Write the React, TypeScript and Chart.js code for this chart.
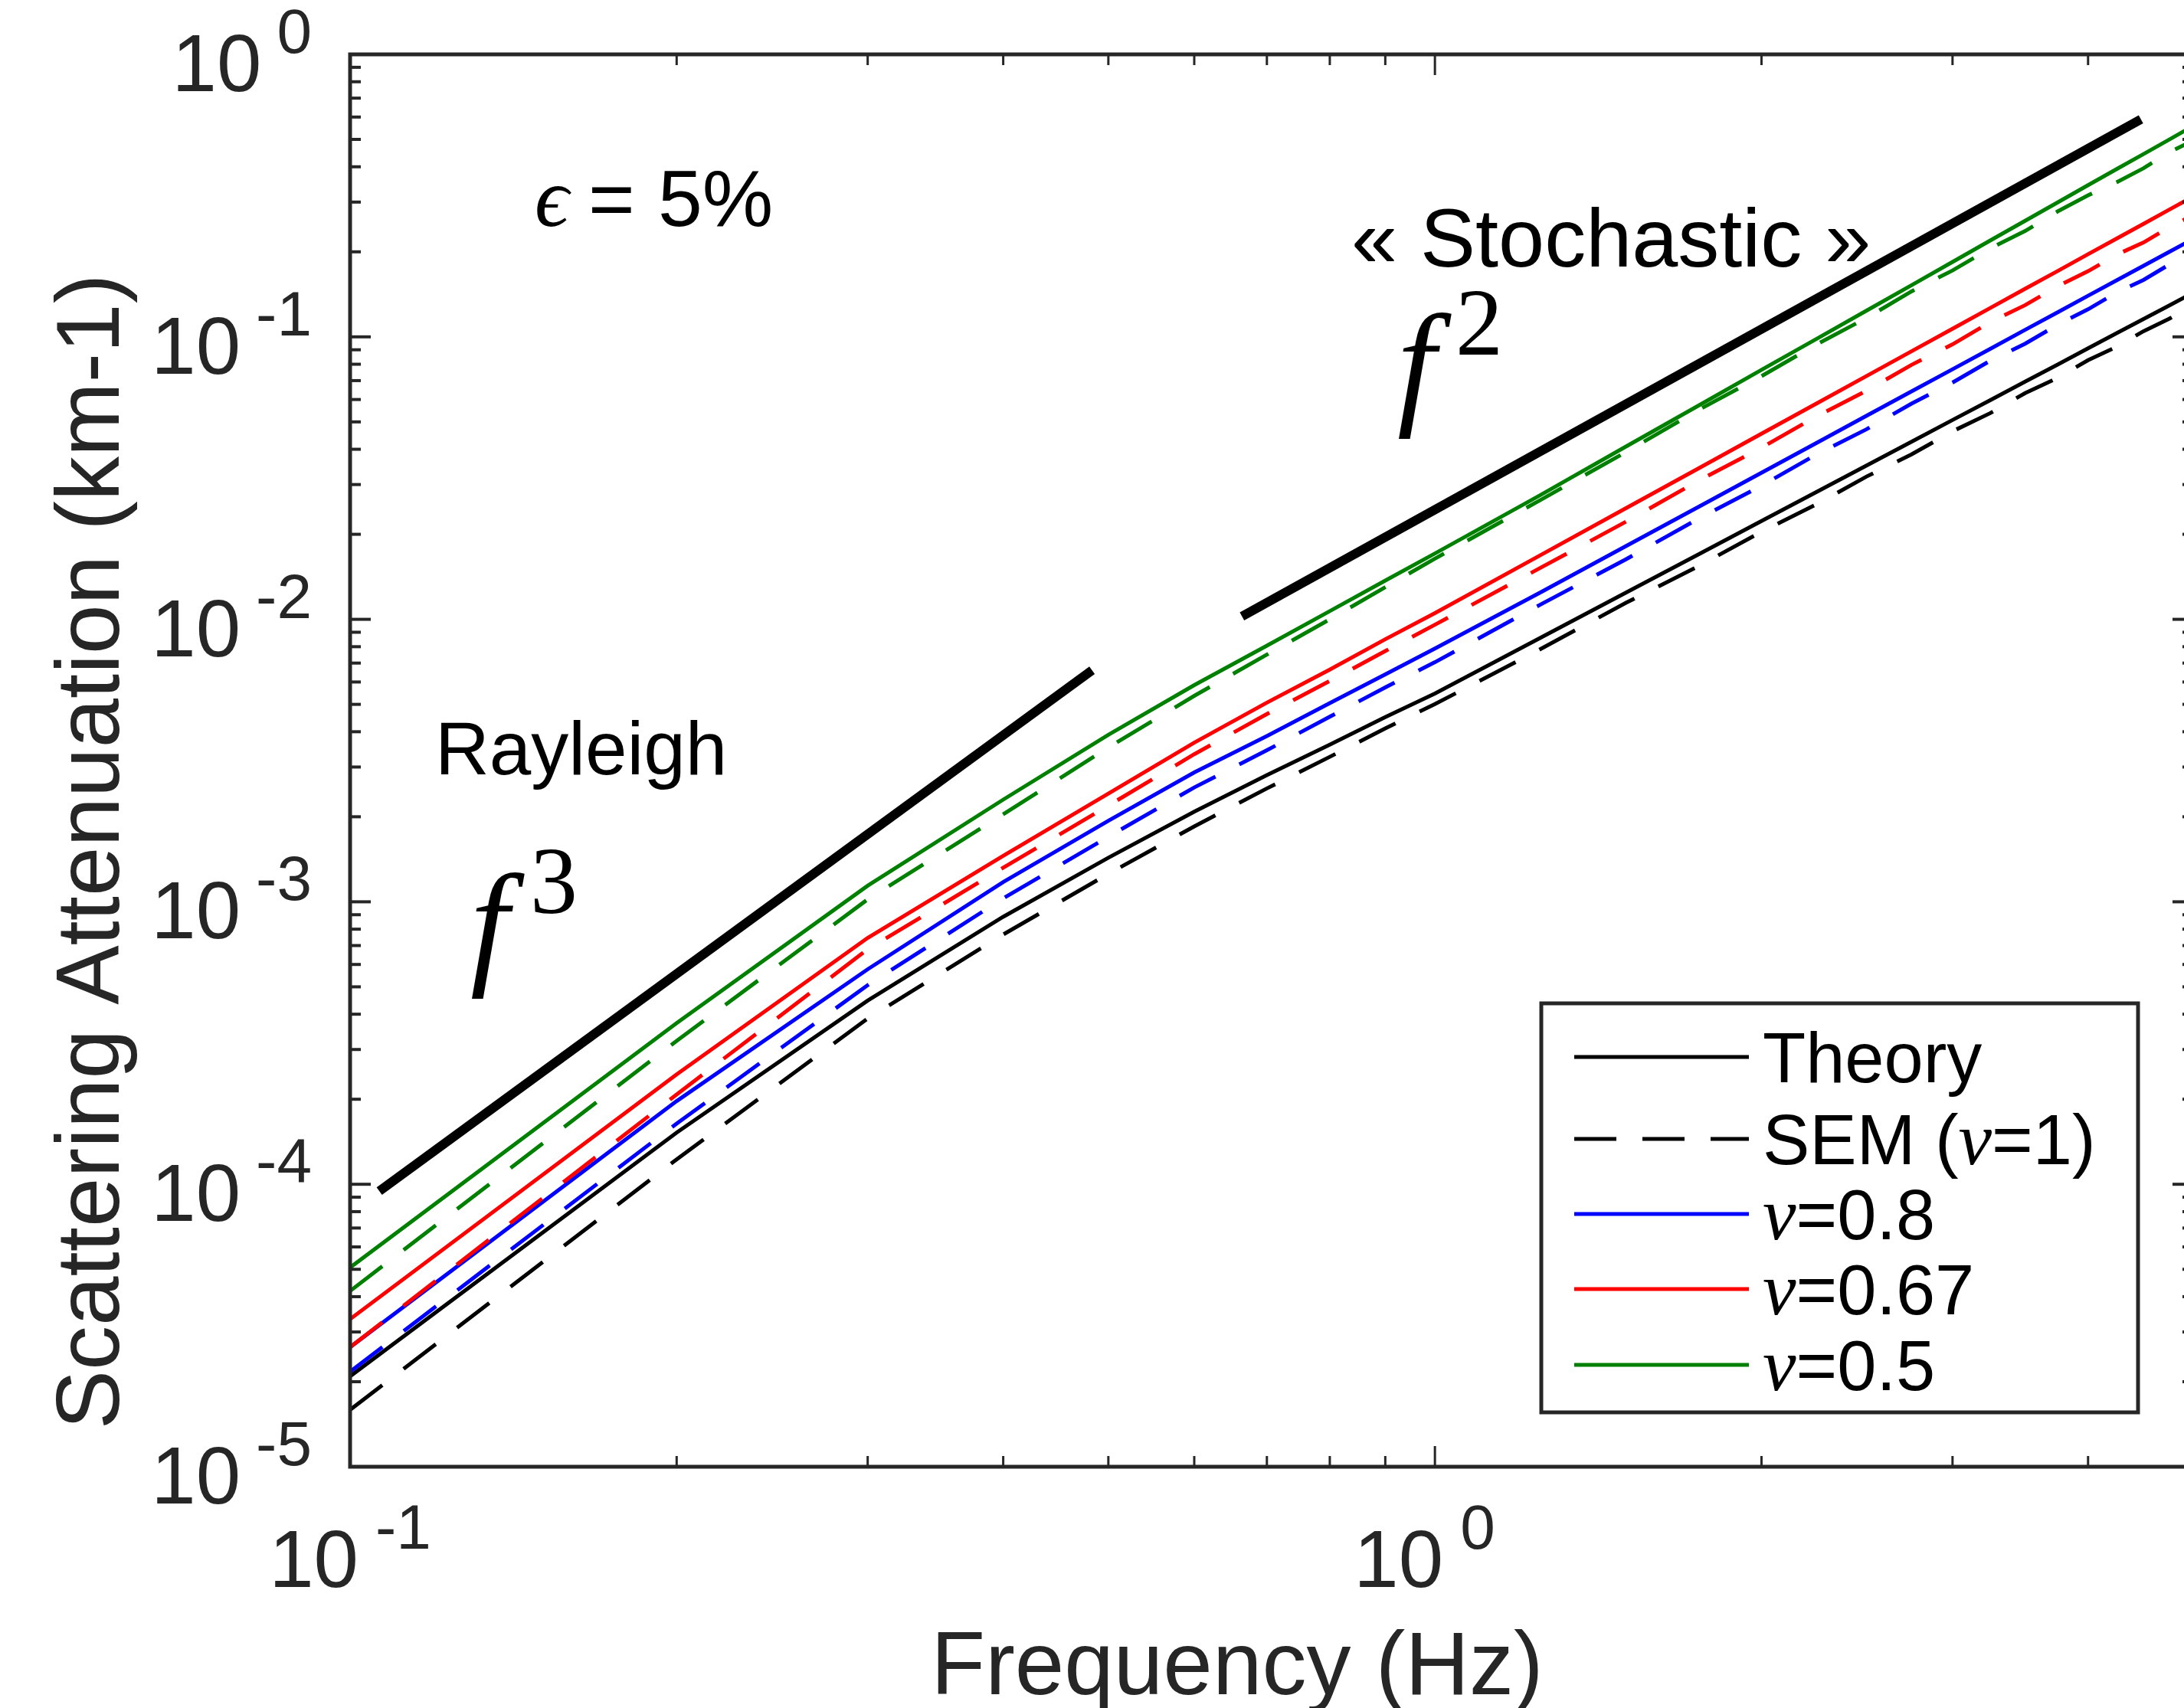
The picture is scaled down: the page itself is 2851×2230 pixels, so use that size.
import React, { useEffect, useRef } from 'react';
import { Chart, registerables } from 'chart.js';

Chart.register(...registerables);

// ---------------- data ----------------
const freq = [0.1, 0.2, 0.3, 0.4, 0.5, 0.6, 0.7, 0.8, 0.9, 1.0, 1.25, 1.5, 1.75, 2.0, 2.25, 2.5, 2.75, 3.0, 3.25, 3.5, 3.75, 4.0, 4.25, 4.5, 4.75, 5.0];

const theoryNu1 = [2.09e-5, 1.524e-4, 4.47e-4, 8.85e-4, 1.432e-3, 2.085e-3, 2.81e-3, 3.6e-3, 4.51e-3, 5.46e-3, 8.59e-3, 1.243e-2, 1.699e-2, 2.228e-2, 2.831e-2, 3.505e-2, 4.254e-2, 5.077e-2, 5.97e-2, 6.94e-2, 7.98e-2, 9.11e-2, 0.103, 0.1156, 0.129, 0.1432];
const semNu1 = [1.59e-5, 1.225e-4, 3.86e-4, 7.66e-4, 1.256e-3, 1.849e-3, 2.52e-3, 3.26e-3, 4.11e-3, 5.01e-3, 7.83e-3, 1.144e-2, 1.543e-2, 2.042e-2, 2.559e-2, 3.204e-2, 3.836e-2, 4.63e-2, 5.37e-2, 6.32e-2, 7.16e-2, 8.27e-2, 9.22e-2, 0.1047, 0.1158, 0.1291];

const theoryNu08 = [2.65e-5, 1.97e-4, 5.77e-4, 1.175e-3, 1.936e-3, 2.87e-3, 3.86e-3, 5.05e-3, 6.38e-3, 7.88e-3, 1.243e-2, 1.817e-2, 2.502e-2, 3.304e-2, 4.22e-2, 5.26e-2, 6.41e-2, 7.68e-2, 9.07e-2, 0.1059, 0.1222, 0.1398, 0.1585, 0.1785, 0.1997, 0.2222];
const semNu08 = [2.17e-5, 1.64e-4, 5.07e-4, 1.028e-3, 1.7e-3, 2.54e-3, 3.44e-3, 4.52e-3, 5.74e-3, 7.05e-3, 1.126e-2, 1.631e-2, 2.272e-2, 2.972e-2, 3.842e-2, 4.71e-2, 5.8e-2, 6.89e-2, 8.23e-2, 9.46e-2, 0.1104, 0.1252, 0.1436, 0.1591, 0.1801, 0.1999];

const theoryNu067 = [3.33e-5, 2.45e-4, 7.45e-4, 1.455e-3, 2.415e-3, 3.66e-3, 5.07e-3, 6.64e-3, 8.5e-3, 1.052e-2, 1.684e-2, 2.475e-2, 3.424e-2, 4.54e-2, 5.82e-2, 7.27e-2, 8.89e-2, 0.1068, 0.1265, 0.148, 0.171, 0.1961, 0.2228, 0.2513, 0.2817, 0.314];
const semNu067 = [2.65e-5, 2.08e-4, 6.79e-4, 1.32e-3, 2.19e-3, 3.33e-3, 4.62e-3, 6.05e-3, 7.72e-3, 9.57e-3, 1.519e-2, 2.216e-2, 3.095e-2, 4.05e-2, 5.24e-2, 6.45e-2, 7.96e-2, 9.41e-2, 0.1127, 0.1295, 0.151, 0.1708, 0.1953, 0.2159, 0.2443, 0.2698];

const theoryNu05 = [5.07e-5, 3.72e-4, 1.14e-3, 2.3e-3, 3.9e-3, 5.85e-3, 8.07e-3, 1.069e-2, 1.371e-2, 1.71e-2, 2.75e-2, 4.09e-2, 5.71e-2, 7.64e-2, 9.86e-2, 0.1239, 0.1524, 0.1841, 0.2193, 0.2576, 0.2992, 0.3443, 0.3926, 0.4436, 0.4989, 0.5585];
const semNu05 = [4.19e-5, 3.22e-4, 1.02e-3, 2.04e-3, 3.52e-3, 5.36e-3, 7.5e-3, 1.0e-2, 1.3e-2, 1.64e-2, 2.64e-2, 3.91e-2, 5.51e-2, 7.26e-2, 9.42e-2, 0.1167, 0.1449, 0.1718, 0.2056, 0.2371, 0.278, 0.317, 0.3524, 0.3954, 0.4498, 0.4955];

// reference slope lines
const rayleighFreq = [0.1064, 0.483];
const rayleighAtt = [9.46e-5, 6.6e-3];
const stochasticFreq = [0.664, 4.475];
const stochasticAtt = [1.025e-2, 0.589];

// axes
const xMin = 0.1;
const xMax = 5;
const yMin = 1e-5;
const yMax = 1;
const xTickExponents = ['-1', '0'];
const yTickExponents = ['0', '-1', '-2', '-3', '-4', '-5'];

const legendLabels = ['Theory', 'SEM (ν=1)', 'ν=0.8', 'ν=0.67', 'ν=0.5'];
const legendColors = ['#000000', '#000000', '#0000ff', '#ff0000', '#008000'];
const legendDashed = [false, true, false, false, false];

const xTitle = 'Frequency (Hz)';
const yTitle = 'Scattering Attenuation (km-1)';

// ---------------- styling ----------------
const SANS = '"Liberation Sans", Arial, Helvetica, sans-serif';
const SERIF = '"Liberation Serif", "DejaVu Serif", "Times New Roman", serif';
const AXIS_COLOR = '#262626';
const DASH = [53, 35];
const CANVAS_W = 2900;
const CANVAS_H = 2230;

const pts = (xs: number[], ys: number[]) => xs.map((x, i) => ({ x, y: ys[i] }));

function drawRuns(ctx: CanvasRenderingContext2D, runs: { text: string; font: string }[], x: number, y: number, color: string) {
  let cx = x;
  ctx.fillStyle = color;
  ctx.textAlign = 'left';
  ctx.textBaseline = 'alphabetic';
  for (const r of runs) {
    ctx.font = r.font;
    ctx.fillText(r.text, cx, y);
    cx += ctx.measureText(r.text).width;
  }
}

function nuRuns(label: string, size: number) {
  const parts = label.split('ν');
  const runs: { text: string; font: string }[] = [];
  parts.forEach((p, i) => {
    if (i > 0) runs.push({ text: 'ν', font: `italic ${size + 6}px ${SERIF}` });
    if (p) runs.push({ text: p, font: `${size}px ${SANS}` });
  });
  return runs;
}

const overlayPlugin = {
  id: 'overlay',
  afterDatasetsDraw(chart: any) {
    const ctx: CanvasRenderingContext2D = chart.ctx;
    const xs = chart.scales.x;
    const ys = chart.scales.y;
    const { left, right, top, bottom } = chart.chartArea;
    ctx.save();
    const seg = (x1: number, y1: number, x2: number, y2: number) => {
      ctx.beginPath();
      ctx.moveTo(x1, y1);
      ctx.lineTo(x2, y2);
      ctx.stroke();
    };

    // ticks
    ctx.strokeStyle = AXIS_COLOR;
    ctx.lineCap = 'butt';
    ctx.lineWidth = 4;
    for (let e = -5; e <= 0; e++) {
      for (let m = 1; m <= 9; m++) {
        const v = m * Math.pow(10, e);
        if (v > yMax * 1.0001) break;
        const y = ys.getPixelForValue(v);
        const len = m === 1 ? 27 : 14;
        seg(left, y, left + len, y);
        seg(right, y, right - len, y);
      }
    }
    ctx.lineWidth = 3;
    for (let e = -1; e <= 0; e++) {
      for (let m = 1; m <= 9; m++) {
        const v = m * Math.pow(10, e);
        if (v > xMax * 1.0001) break;
        const x = xs.getPixelForValue(v);
        const len = m === 1 ? 27 : 14;
        seg(x, bottom, x, bottom - len);
        seg(x, top, x, top + len);
      }
    }
    // box
    ctx.lineWidth = 5;
    ctx.strokeRect(left, top, right - left, bottom - top);

    // y tick labels
    ctx.fillStyle = AXIS_COLOR;
    ctx.textBaseline = 'alphabetic';
    yTickExponents.forEach((ex) => {
      const y = ys.getPixelForValue(Math.pow(10, Number(ex)));
      ctx.font = `82px ${SANS}`;
      const w2 = ctx.measureText(ex).width;
      ctx.textAlign = 'left';
      ctx.fillText(ex, 407 - w2, y - 2);
      ctx.font = `105px ${SANS}`;
      ctx.textAlign = 'right';
      ctx.fillText('10', 407 - w2 - 20, y + 48);
    });
    // x tick labels
    xTickExponents.forEach((ex) => {
      const x = xs.getPixelForValue(Math.pow(10, Number(ex)));
      ctx.font = `105px ${SANS}`;
      ctx.textAlign = 'right';
      ctx.fillText('10', x + 11, 2072);
      ctx.font = `82px ${SANS}`;
      ctx.textAlign = 'left';
      ctx.fillText(ex, x + 33, 2022);
    });

    // axis titles
    ctx.font = `116px ${SANS}`;
    ctx.textAlign = 'center';
    ctx.fillText(xTitle, 1615, 2212);
    ctx.save();
    ctx.translate(155, 1112);
    ctx.rotate(-Math.PI / 2);
    ctx.fillText(yTitle, 0, 0);
    ctx.restore();

    // annotations
    drawRuns(ctx, [{ text: 'ϵ', font: `italic 110px ${SERIF}` }], 698, 295, '#000');
    drawRuns(ctx, [{ text: '=', font: `104px ${SANS}` }], 768, 295, '#000');
    drawRuns(ctx, [{ text: '5%', font: `104px ${SANS}` }], 859, 295, '#000');
    drawRuns(ctx, [{ text: 'Rayleigh', font: `98px ${SANS}` }], 568, 1011, '#000');
    drawRuns(ctx, [{ text: '« Stochastic »', font: `108px ${SANS}` }], 1764, 348, '#000');
    drawRuns(ctx, [{ text: 'f', font: `italic 180px ${SERIF}` }], 614, 1266, '#000');
    drawRuns(ctx, [{ text: '3', font: `124px ${SERIF}` }], 692, 1192, '#000');
    drawRuns(ctx, [{ text: 'f', font: `italic 180px ${SERIF}` }], 1824, 535, '#000');
    drawRuns(ctx, [{ text: '2', font: `124px ${SERIF}` }], 1900, 463, '#000');

    // legend
    const lx0 = 2012, ly0 = 1310, lx1 = 2791, ly1 = 1844;
    ctx.fillStyle = '#ffffff';
    ctx.fillRect(lx0, ly0, lx1 - lx0, ly1 - ly0);
    ctx.strokeStyle = AXIS_COLOR;
    ctx.lineWidth = 5;
    ctx.strokeRect(lx0, ly0, lx1 - lx0, ly1 - ly0);
    const rowY = [1380, 1487, 1585, 1683, 1782];
    legendLabels.forEach((lab, i) => {
      const y = rowY[i];
      ctx.strokeStyle = legendColors[i];
      ctx.lineWidth = 5;
      ctx.setLineDash(legendDashed[i] ? [55, 34] : []);
      seg(2055, y, 2283, y);
      ctx.setLineDash([]);
      drawRuns(ctx, nuRuns(lab, 92), 2301, y + 33, '#000');
    });
    ctx.restore();
  },
};

export default function App() {
  const ref = useRef<HTMLCanvasElement | null>(null);
  useEffect(() => {
    if (!ref.current) return;
    const ds = (label: string, ys: number[], color: string, dashed: boolean) => ({
      label,
      data: pts(freq, ys),
      borderColor: color,
      backgroundColor: color,
      borderWidth: 5,
      borderDash: dashed ? DASH : [],
      borderCapStyle: 'butt' as const,
      pointRadius: 0,
      tension: 0,
      fill: false,
    });
    const thick = (label: string, xs: number[], ys: number[]) => ({
      label,
      data: pts(xs, ys),
      borderColor: '#000',
      backgroundColor: '#000',
      borderWidth: 12,
      borderCapStyle: 'butt' as const,
      pointRadius: 0,
      tension: 0,
      fill: false,
    });
    const chart = new Chart(ref.current, {
      type: 'line',
      data: {
        datasets: [
          thick('Rayleigh f^3', rayleighFreq, rayleighAtt),
          thick('Stochastic f^2', stochasticFreq, stochasticAtt),
          ds('SEM ν=0.5', semNu05, '#008000', true),
          ds('ν=0.5', theoryNu05, '#008000', false),
          ds('SEM ν=0.67', semNu067, '#ff0000', true),
          ds('ν=0.67', theoryNu067, '#ff0000', false),
          ds('SEM ν=0.8', semNu08, '#0000ff', true),
          ds('ν=0.8', theoryNu08, '#0000ff', false),
          ds('SEM (ν=1)', semNu1, '#000000', true),
          ds('Theory', theoryNu1, '#000000', false),
        ] as any,
      },
      options: {
        responsive: false,
        animation: false,
        devicePixelRatio: 1,
        layout: { padding: { left: 457, top: 71, right: CANVAS_W - 2863, bottom: CANVAS_H - 1915 } },
        plugins: { legend: { display: false }, tooltip: { enabled: false }, title: { display: false } },
        scales: {
          x: {
            type: 'logarithmic',
            min: xMin,
            max: xMax,
            ticks: { display: false },
            grid: { display: false, drawTicks: false },
            border: { display: false },
            afterFit: (s: any) => { s.height = 0; },
          },
          y: {
            type: 'logarithmic',
            min: yMin,
            max: yMax,
            ticks: { display: false },
            grid: { display: false, drawTicks: false },
            border: { display: false },
            afterFit: (s: any) => { s.width = 0; },
          },
        },
      } as any,
      plugins: [overlayPlugin],
    });
    return () => chart.destroy();
  }, []);
  return (
    <div style={{ position: 'fixed', left: 0, top: 0, width: '100vw', height: '100vh', overflow: 'hidden', background: '#fff' }}>
      <canvas ref={ref} width={CANVAS_W} height={CANVAS_H} style={{ display: 'block', width: CANVAS_W, height: CANVAS_H }} />
    </div>
  );
}
